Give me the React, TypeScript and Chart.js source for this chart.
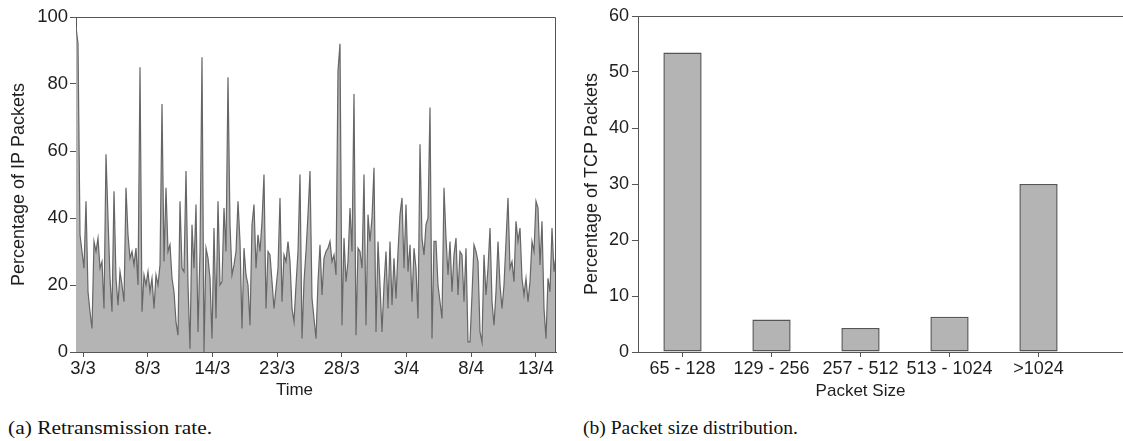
import React, { useEffect, useRef } from "react";
import { Chart, registerables } from "chart.js";

Chart.register(...registerables);

// ---------- Data ----------
// Retransmission rate (% of IP packets), sampled evenly from 3/3 to ~15/4
const RETRANS: number[] = [
  97, 92, 35, 30, 25, 45, 18, 12, 7, 33,
  30, 34, 25, 27, 13, 59, 40, 22, 12, 48,
  22, 14, 24, 20, 15, 49, 35, 28, 30, 26,
  31, 20, 85, 12, 23, 20, 24, 18, 22, 13,
  23, 20, 26, 74, 27, 49, 30, 32, 22, 18,
  9, 5, 45, 25, 24, 54, 20, 1, 38, 25,
  44, 6, 30, 88, 0, 31, 28, 22, 4, 37,
  10, 45, 20, 21, 43, 30, 82, 38, 23, 26,
  30, 45, 33, 7, 31, 23, 20, 8, 38, 44,
  25, 35, 30, 39, 53, 13, 30, 29, 21, 13,
  19, 25, 46, 15, 29, 27, 33, 27, 13, 9,
  20, 30, 53, 4, 21, 30, 41, 54, 16, 10,
  4, 21, 32, 17, 28, 30, 31, 33, 27, 29,
  23, 84, 92, 8, 34, 21, 27, 43, 30, 77,
  5, 31, 30, 25, 53, 8, 41, 33, 40, 55,
  6, 33, 20, 6, 20, 30, 13, 33, 14, 28,
  16, 30, 41, 46, 25, 44, 24, 32, 15, 31,
  25, 10, 62, 34, 29, 38, 40, 73, 4, 33,
  33, 20, 15, 10, 49, 34, 23, 33, 18, 29,
  34, 17, 30, 29, 15, 31, 3, 3, 17, 32,
  30, 27, 6, 3, 29, 17, 25, 37, 15, 8,
  18, 33, 20, 13, 20, 33, 46, 25, 27, 21,
  39, 33, 37, 22, 17, 22, 15, 21, 33, 30,
  45, 43, 26, 39, 13, 4, 22, 18, 37, 24,
  29,
];
const TIME_LABELS: string[] = ["3/3", "8/3", "14/3", "23/3", "28/3", "3/4", "8/4", "13/4"];
// sample index of the first labelled tick and spacing (in samples) between ticks
const TIME_TICK_FIRST = 3.5;
const TIME_TICK_STEP = 32.35;

const SIZE_CATEGORIES: string[] = ["65 - 128", "129 - 256", "257 - 512", "513 - 1024", ">1024"];
const SIZE_VALUES: number[] = [53.5, 5.8, 4.3, 6.3, 30.0];

// ---------- Styles ----------
const SANS = "'Liberation Sans', Arial, Helvetica, sans-serif";
const SERIF = "'Liberation Serif', 'Times New Roman', serif";
const AXIS = "#555555";
const TEXT = "#1e1e1e";

const leftFrame = {
  id: "leftFrame",
  afterDraw(chart: any) {
    const { ctx, chartArea } = chart;
    const t = Math.round(chartArea.top) + 0.5;
    const r = Math.round(chartArea.right) - 0.5;
    const b = Math.round(chartArea.bottom);
    ctx.save();
    ctx.strokeStyle = AXIS;
    ctx.lineWidth = 1;
    ctx.beginPath();
    ctx.moveTo(chartArea.left, t);
    ctx.lineTo(r, t);
    ctx.lineTo(r, b);
    ctx.stroke();
    ctx.restore();
  },
};

const rightFrame = {
  id: "rightFrame",
  afterDraw(chart: any) {
    const { ctx, chartArea, width } = chart;
    const t = Math.round(chartArea.top) + 0.5;
    const b = Math.round(chartArea.bottom) + 0.5;
    ctx.save();
    ctx.strokeStyle = AXIS;
    ctx.lineWidth = 1;
    ctx.beginPath();
    ctx.moveTo(chartArea.left, t);
    ctx.lineTo(width, t);
    ctx.moveTo(chartArea.right, b);
    ctx.lineTo(width, b);
    ctx.stroke();
    ctx.restore();
  },
};

function RetransChart() {
  const ref = useRef<HTMLCanvasElement | null>(null);
  useEffect(() => {
    if (!ref.current) return;
    const chart = new Chart(ref.current, {
      type: "line",
      data: {
        datasets: [
          {
            data: RETRANS.map((v, i) => ({ x: i, y: v })),
            borderColor: "#666666",
            borderWidth: 1.2,
            backgroundColor: "#b4b4b4",
            fill: "origin",
            pointRadius: 0,
            tension: 0,
          },
        ],
      },
      options: {
        animation: false,
        responsive: false,
        maintainAspectRatio: false,
        layout: { padding: { top: 17, right: 4, left: 0, bottom: 0 } },
        plugins: { legend: { display: false }, tooltip: { enabled: false } },
        scales: {
          x: {
            type: "linear",
            min: 0,
            max: RETRANS.length - 1,
            afterBuildTicks: (s: any) => {
              s.ticks = TIME_LABELS.map((_, k) => ({ value: TIME_TICK_FIRST + k * TIME_TICK_STEP }));
            },
            afterFit: (s: any) => {
              s.height = 50;
            },
            ticks: {
              autoSkip: false,
              maxRotation: 0,
              padding: 1,
              color: TEXT,
              font: { family: SANS, size: 18.5 },
              callback: (_v: any, idx: number) => TIME_LABELS[idx],
            },
            grid: { drawOnChartArea: false, tickLength: 5, color: AXIS },
            border: { color: AXIS, width: 1 },
          },
          y: {
            min: 0,
            max: 100,
            afterFit: (s: any) => {
              s.width = 76;
            },
            ticks: { stepSize: 20, padding: 2, color: TEXT, font: { family: SANS, size: 18.5 } },
            grid: { drawOnChartArea: false, tickLength: 6, color: AXIS },
            border: { color: AXIS, width: 1 },
            title: {
              display: true,
              text: "Percentage of IP Packets",
              color: TEXT,
              font: { family: SANS, size: 18 },
              padding: { top: 8, bottom: 0 },
            },
          },
        },
      },
      plugins: [leftFrame],
    } as any);
    return () => chart.destroy();
  }, []);
  return (
    <canvas
      ref={ref}
      width={560}
      height={402}
      style={{ position: "absolute", left: 0, top: 0, width: 560, height: 402, display: "block" }}
    />
  );
}

function SizeChart() {
  const ref = useRef<HTMLCanvasElement | null>(null);
  useEffect(() => {
    if (!ref.current) return;
    const chart = new Chart(ref.current, {
      type: "bar",
      data: {
        labels: SIZE_CATEGORIES,
        datasets: [
          {
            data: SIZE_VALUES,
            backgroundColor: "#b4b4b4",
            borderColor: "#555555",
            borderWidth: 1.5,
            borderSkipped: false,
            categoryPercentage: 1,
            barPercentage: 0.43,
          },
        ],
      },
      options: {
        animation: false,
        responsive: false,
        maintainAspectRatio: false,
        layout: { padding: { top: 16, right: 40, left: 0, bottom: 0 } },
        plugins: { legend: { display: false }, tooltip: { enabled: false } },
        scales: {
          x: {
            type: "category",
            offset: true,
            afterFit: (s: any) => {
              s.height = 50;
            },
            ticks: { autoSkip: false, maxRotation: 0, padding: 1, color: TEXT, font: { family: SANS, size: 18 } },
            grid: { drawOnChartArea: false, tickLength: 5, color: AXIS, offset: false },
            border: { color: AXIS, width: 1 },
            title: {
              display: true,
              text: "Packet Size",
              color: TEXT,
              font: { family: SANS, size: 17 },
              padding: { top: 0, bottom: 0 },
            },
          },
          y: {
            min: 0,
            max: 60,
            afterFit: (s: any) => {
              s.width = 78;
            },
            ticks: { stepSize: 10, padding: 3, color: TEXT, font: { family: SANS, size: 18 } },
            grid: { drawOnChartArea: false, tickLength: 6, color: AXIS },
            border: { color: AXIS, width: 1 },
            title: {
              display: true,
              text: "Percentage of TCP Packets",
              color: TEXT,
              font: { family: SANS, size: 18 },
              padding: { top: 21, bottom: 0 },
            },
          },
        },
      },
      plugins: [rightFrame],
    } as any);
    return () => chart.destroy();
  }, []);
  return (
    <canvas
      ref={ref}
      width={563}
      height={402}
      style={{ position: "absolute", left: 560, top: 0, width: 563, height: 402, display: "block" }}
    />
  );
}

export default function App() {
  return (
    <div
      style={{
        position: "fixed",
        left: 0,
        top: 0,
        width: 1123,
        height: 441,
        background: "#ffffff",
        overflow: "hidden",
      }}
    >
      <RetransChart />
      <SizeChart />
      <div
        style={{
          position: "absolute",
          left: 0,
          width: 589,
          top: 380,
          lineHeight: "20px",
          textAlign: "center",
          fontFamily: SANS,
          fontSize: 17,
          color: TEXT,
        }}
      >
        Time
      </div>
      <div
        style={{
          position: "absolute",
          left: 8,
          top: 418,
          lineHeight: "20px",
          fontFamily: SERIF,
          fontSize: 18,
          color: "#111",
          whiteSpace: "nowrap",
          transform: "scaleX(1.19)",
          transformOrigin: "left center",
        }}
      >
        (a) Retransmission rate.
      </div>
      <div
        style={{
          position: "absolute",
          left: 583,
          top: 418,
          lineHeight: "20px",
          fontFamily: SERIF,
          fontSize: 18,
          color: "#111",
          whiteSpace: "nowrap",
          transform: "scaleX(1.086)",
          transformOrigin: "left center",
        }}
      >
        (b) Packet size distribution.
      </div>
    </div>
  );
}
